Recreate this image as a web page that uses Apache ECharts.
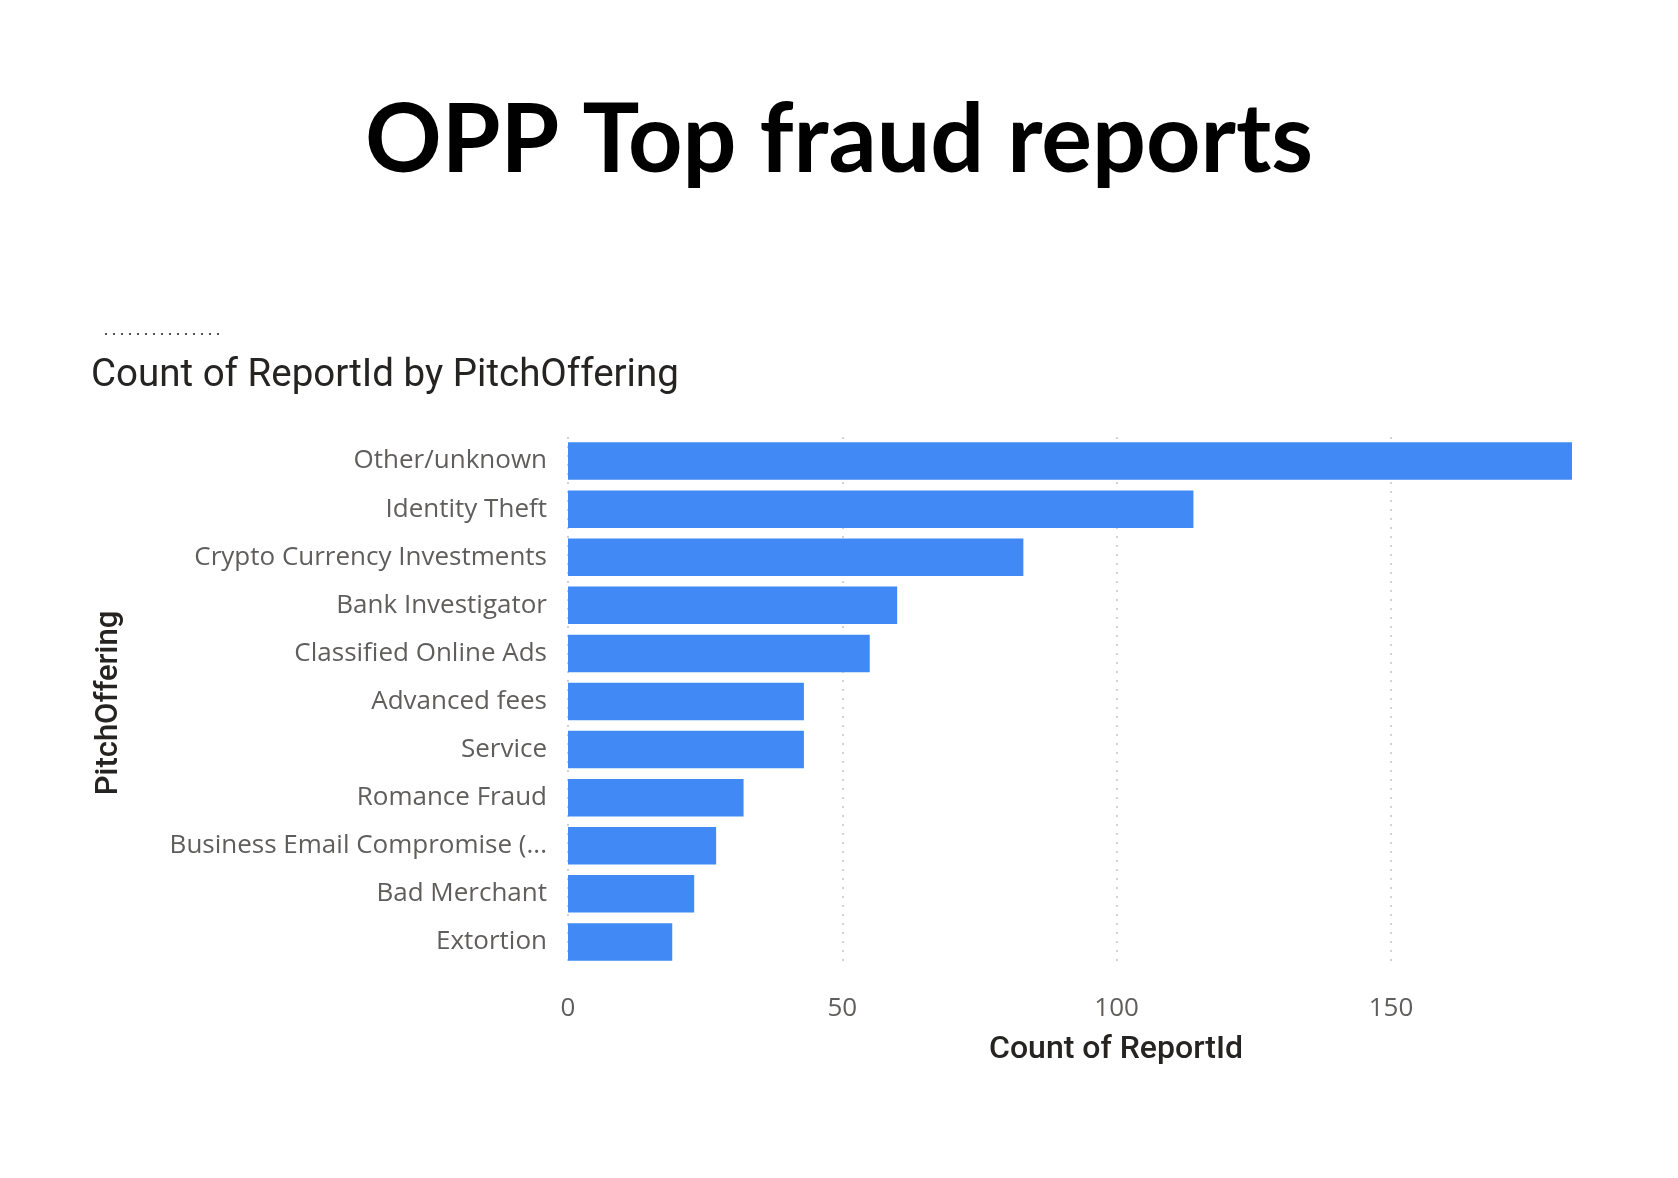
<!DOCTYPE html>
<html>
<head>
<meta charset="utf-8">
<script src="https://cdn.jsdelivr.net/npm/echarts@6/dist/echarts.min.js"></script>
<style>
  html, body { margin: 0; padding: 0; background: #fff; }
  #chart { width: 1678px; height: 1178px; }
</style>
</head>
<body>
<div id="chart"></div>
<script>
// categories top to bottom, as shown
const pitchOfferings = [
    'Other/unknown',
    'Identity Theft',
    'Crypto Currency Investments',
    'Bank Investigator',
    'Classified Online Ads',
    'Advanced fees',
    'Service',
    'Romance Fraud',
    'Business Email Compromise (...',
    'Bad Merchant',
    'Extortion'
];
const reportCounts = [183, 114, 83, 60, 55, 43, 43, 32, 27, 23, 19];
const xTicks = [0, 50, 100, 150];

const LABEL_GREY = '#605E5C';
const TITLE_DARK = '#252423';

const chart = echarts.init(document.getElementById('chart'));

chart.setOption({
    backgroundColor: '#ffffff',
    animation: false,
    graphic: [
        {
            type: 'text',
            left: 'center',
            top: 94,
            style: {
                text: 'OPP Top fraud reports',
                font: 'bold 95px Lato, "Open Sans", sans-serif',
                fill: '#000000'
            }
        },
        {
            // cut-off line above the visual title
            type: 'line',
            shape: { x1: 105, y1: 334, x2: 221, y2: 334 },
            style: { stroke: '#555', lineWidth: 2, lineDash: [2, 6] }
        },
        {
            type: 'text',
            left: 91,
            top: 357,
            style: {
                text: 'Count of ReportId by PitchOffering',
                font: '38.5px Roboto, sans-serif',
                fill: TITLE_DARK
            }
        },
        {
            type: 'text',
            x: 109,
            y: 703,
            rotation: Math.PI / 2,
            style: {
                text: 'PitchOffering',
                font: '500 31px Roboto, sans-serif',
                fill: TITLE_DARK,
                align: 'center',
                verticalAlign: 'middle'
            }
        },
        {
            type: 'text',
            x: 1116,
            y: 1050,
            style: {
                text: 'Count of ReportId',
                font: '500 32px Roboto, sans-serif',
                fill: TITLE_DARK,
                align: 'center',
                verticalAlign: 'middle'
            }
        }
    ],
    grid: {
        left: 568,
        right: 106,
        top: 437,
        bottom: 212,
        containLabel: false
    },
    xAxis: {
        type: 'value',
        min: xTicks[0],
        max: 'dataMax',
        interval: xTicks[1] - xTicks[0],
        axisLine: { show: false },
        axisTick: { show: false },
        axisLabel: {
            color: LABEL_GREY,
            fontSize: 26,
            fontFamily: '"Open Sans", sans-serif',
            margin: 30,
            showMaxLabel: false
        },
        splitLine: {
            show: true,
            showMaxLine: false,
            lineStyle: { color: '#d4d4d4', width: 2, type: [2, 7] }
        }
    },
    yAxis: {
        type: 'category',
        inverse: true,
        data: pitchOfferings,
        axisLine: { show: false },
        axisTick: { show: false },
        axisLabel: {
            color: LABEL_GREY,
            fontSize: 26,
            fontFamily: '"Open Sans", sans-serif',
            margin: 21
        }
    },
    series: [{
        type: 'bar',
        data: reportCounts,
        barCategoryGap: '22%',
        itemStyle: { color: '#4189f4' }
    }]
});
</script>
</body>
</html>
